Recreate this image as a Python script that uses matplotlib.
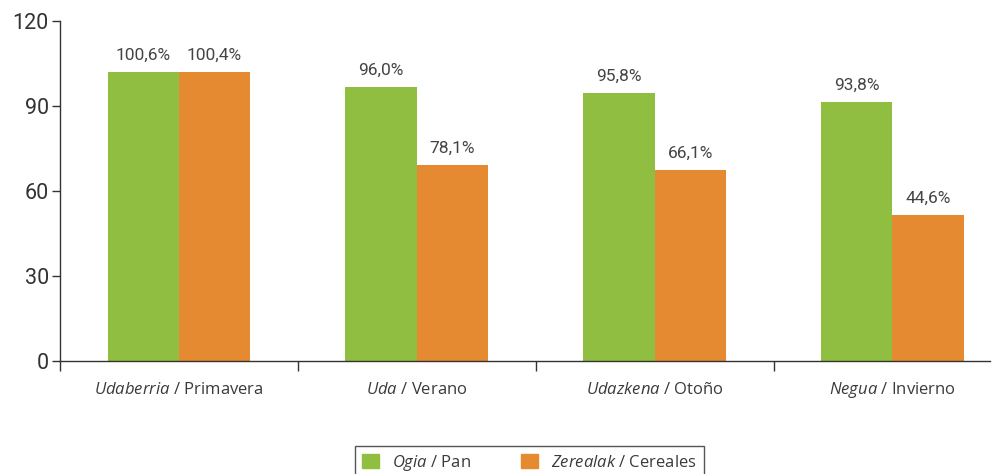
import numpy as np
import matplotlib.pyplot as plt
from matplotlib.patches import Patch

# data
seasons_eu = ["Udaberria", "Uda", "Udazkena", "Negua"]
seasons_es = ["Primavera", "Verano", "Otoño", "Invierno"]
ogia = [102.0, 96.7, 94.6, 91.4]        # bar heights as drawn
zerealak = [102.0, 69.2, 67.5, 51.5]
ogia_labels = ["100,6%", "96,0%", "95,8%", "93,8%"]
zerealak_labels = ["100,4%", "78,1%", "66,1%", "44,6%"]
yticks = [0, 30, 60, 90, 120]

green = "#8fbe41"
orange = "#e68a32"
txt = "#3a3a3a"

plt.rcParams["mathtext.fontset"] = "custom"
plt.rcParams["mathtext.rm"] = "Open Sans"
plt.rcParams["mathtext.it"] = "Open Sans:italic"

fig = plt.figure(figsize=(9.99, 4.74), dpi=100)
ax = fig.add_axes([0.060, 0.2384, 0.931, 0.7173])

x = np.arange(len(seasons_eu))
w = 0.3
b1 = ax.bar(x - w / 2, ogia, w, color=green)
b2 = ax.bar(x + w / 2, zerealak, w, color=orange)

for bars, labels in [(b1, ogia_labels), (b2, zerealak_labels)]:
    for bar, lab in zip(bars, labels):
        ax.annotate(lab, (bar.get_x() + bar.get_width() / 2, bar.get_height()),
                    xytext=(0, 8.5), textcoords="offset points", ha="center", va="baseline",
                    fontsize=12.5, family="Roboto", color="#444444")

ax.set_ylim(0, 120)
ax.set_xlim(-0.5, 3.41)
ax.set_yticks(yticks)
ax.set_yticklabels([str(v) for v in yticks], family="Roboto", fontsize=15.5, color="#333333")
ax.tick_params(axis="y", length=6, width=1, color="#333333", pad=2)

ax.set_xticks(np.arange(-0.5, 3, 1))
ax.set_xticklabels([])
ax.tick_params(axis="x", which="major", length=7.5, width=1, color="#333333")
ax.set_xticks(x, minor=True)
ax.set_xticklabels([r"$\mathit{%s}$ / %s" % (eu, es) for eu, es in zip(seasons_eu, seasons_es)],
                   minor=True, family="Open Sans", fontsize=12, color=txt)
ax.tick_params(axis="x", which="minor", length=0, pad=24)
for lab in ax.get_xticklabels(minor=True):
    lab.set_va("baseline")

for s in ["top", "right"]:
    ax.spines[s].set_visible(False)
for s in ["left", "bottom"]:
    ax.spines[s].set_color("#333333")
    ax.spines[s].set_linewidth(1)

handles = [Patch(color=green), Patch(color=orange)]
fig.legend(handles, [r"$\mathit{Ogia}$ / Pan", r"$\mathit{Zerealak}$ / Cereales"],
           loc="upper center", bbox_to_anchor=(0.53, 0.059), ncol=2, borderaxespad=0,
           frameon=True, fancybox=False, edgecolor="#555555", framealpha=1,
           handlelength=1, handleheight=1, columnspacing=3, borderpad=0.4,
           prop={"family": "Open Sans", "size": 12}, labelcolor=txt)

plt.savefig("out.png")
